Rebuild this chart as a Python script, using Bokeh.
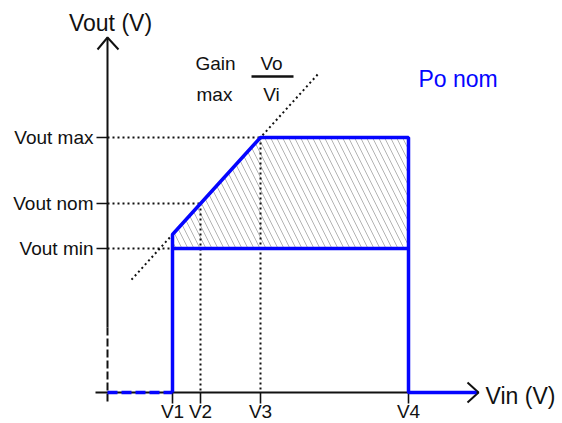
from bokeh.plotting import figure
from bokeh.models import Range1d
from bokeh.core.properties import value
from bokeh.embed import file_html
from bokeh.resources import INLINE

# ---- data (schematic units, origin at axes crossing) ----
vin_labels = ["V1", "V2", "V3", "V4"]
vin_values = [65, 93, 153, 301]
vout_labels = ["Vout min", "Vout nom", "Vout max"]
vout_values = [144, 189, 255]
vout_at_v1 = 158          # output at V1 on max-gain line
vin_axis_end = 371
vout_axis_end = 355
y_axis_solid_bottom = 65
gain_line_x = [24, 211]

V1, V2, V3, V4 = vin_values
vmin, vnom, vmax = vout_values
slope = (vmax - vout_at_v1) / (V3 - V1)
gain_line_y = [vout_at_v1 + (x - V1) * slope for x in gain_line_x]

FONT = value("Liberation Sans")
BLUE = "#0505ff"
BLACK = "#111111"

p = figure(width=562, height=423, output_backend="svg", toolbar_location=None,
           x_range=Range1d(-107, 455), y_range=Range1d(-31, 392),
           x_axis_type=None, y_axis_type=None, min_border=0)
p.outline_line_color = None
p.grid.visible = False
p.background_fill_color = "white"

# hatched operating region
p.patch([V1, V1, V3, V4, V4], [vmin, vout_at_v1, vmax, vmax, vmin],
        fill_color=None, line_color=None,
        hatch_pattern="\\", hatch_color="#b4b4b4", hatch_weight=1, hatch_scale=12)

# dotted guide lines
dot = dict(line_color=BLACK, line_width=2, line_dash="2 3")
p.line(gain_line_x, gain_line_y, **dot)
p.line([0, V3], [vmax, vmax], **dot)
p.line([0, V2], [vnom, vnom], **dot)
p.line([0, V1], [vmin, vmin], **dot)
p.line([V2, V2], [vnom, 0], **dot)
p.line([V3, V3], [vmax, 0], **dot)

# axes
p.line([-12, vin_axis_end], [0, 0], line_color=BLACK, line_width=2)
p.line([vin_axis_end - 11, vin_axis_end, vin_axis_end - 11], [10, 0, -10],
       line_color=BLACK, line_width=2)
p.line([0, 0], [vout_axis_end, y_axis_solid_bottom], line_color=BLACK, line_width=2)
p.line([0, 0], [y_axis_solid_bottom, -11], line_color=BLACK, line_width=2, line_dash="8 3")
p.line([-10, 0, 11], [vout_axis_end - 12, vout_axis_end, vout_axis_end - 12],
       line_color=BLACK, line_width=2)

# ticks
for x in vin_values:
    p.line([x, x], [0, -11], line_color=BLACK, line_width=1.6)
for y in vout_values:
    p.line([-11, 0], [y, y], line_color=BLACK, line_width=1.6)

# blue boundary
p.line([V1, V1, V3, V4, V4, vin_axis_end - 2], [0, vout_at_v1, vmax, vmax, 0, 0],
       line_color=BLUE, line_width=3.5)
p.line([V1, V4], [vmin, vmin], line_color=BLUE, line_width=3.5)
p.line([0, V1], [0, 0], line_color=BLUE, line_width=3.5, line_dash="10 4")

# tick labels
p.text(x=vin_values, y=[-19] * 4, text=vin_labels, text_font=FONT,
       text_font_size="19px", text_align="center", text_baseline="middle",
       text_color=BLACK)
p.text(x=[-14] * 3, y=vout_values, text=vout_labels, text_font=FONT,
       text_font_size="19px", text_align="right", text_baseline="middle",
       text_color=BLACK)

# axis titles
p.text(x=[3], y=[370], text=["Vout (V)"], text_font=FONT, text_font_size="23px",
       text_align="center", text_baseline="middle", text_color=BLACK)
p.text(x=[vin_axis_end + 7], y=[-3], text=["Vin (V)"], text_font=FONT,
       text_font_size="23px", text_align="left", text_baseline="middle",
       text_color=BLACK)

# gain annotation
p.text(x=[88, 89], y=[329, 298], text=["Gain", "max"], text_font=FONT,
       text_font_size="19px", text_align="left", text_baseline="middle",
       text_color=BLACK)
p.text(x=[164, 164], y=[329, 298], text=["Vo", "Vi"], text_font=FONT,
       text_font_size="19px", text_align="center", text_baseline="middle",
       text_color=BLACK)
p.line([144, 186], [316, 316], line_color=BLACK, line_width=2.5)

p.text(x=[311], y=[314], text=["Po nom"], text_font=FONT, text_font_size="23px",
       text_align="left", text_baseline="middle", text_color=BLUE)

open("out.html", "w").write(file_html(p, INLINE))
